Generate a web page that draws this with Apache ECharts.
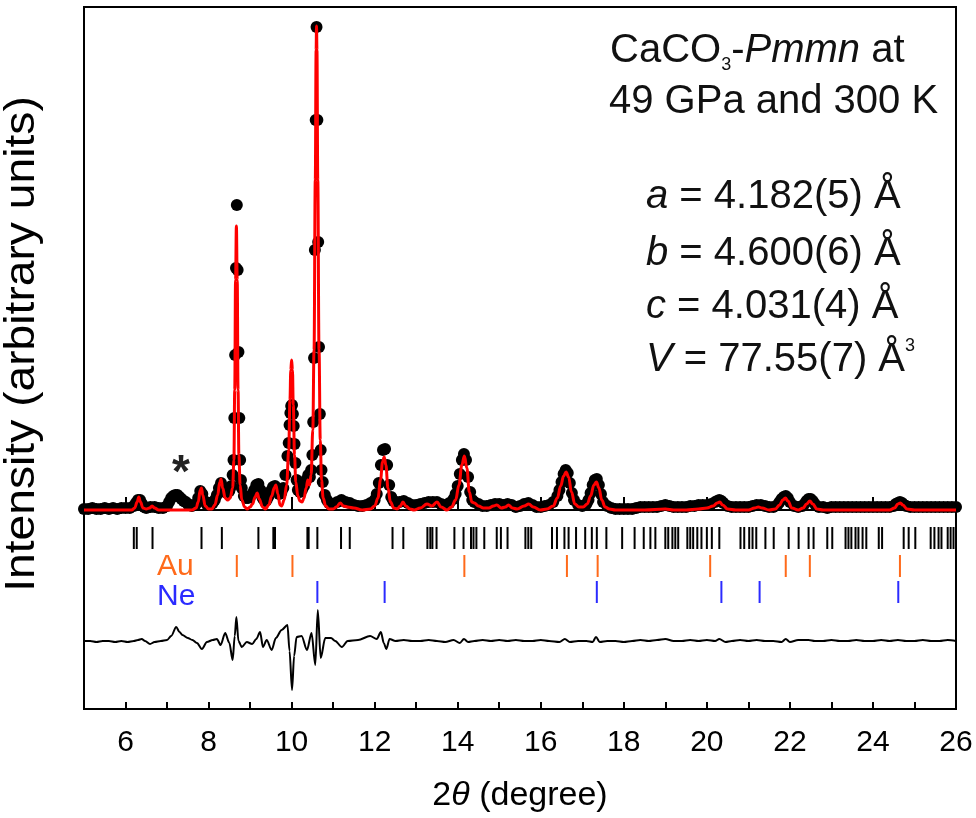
<!DOCTYPE html>
<html>
<head>
<meta charset="utf-8">
<script src="https://cdn.jsdelivr.net/npm/echarts@6/dist/echarts.min.js"></script>
<style>
  html, body { margin: 0; padding: 0; background: #fff; }
  #chart { width: 976px; height: 818px; }
</style>
</head>
<body>
<div id="chart"></div>
<script>
// Observed pattern, [2theta (deg), intensity]
const observed = [
  [5.0,1],[5.1,1],[5.2,2],[5.3,1],[5.4,1],[5.5,2],[5.6,1],[5.7,2],[5.8,1],[5.9,2],[6.0,2],[6.1,2],
  [6.2,4],[6.25,7],[6.3,10],[6.35,10],[6.4,6],[6.45,3],[6.5,2],[6.6,3],[6.7,3],[6.8,2],[6.9,2],
  [7.0,4],[7.05,8],[7.1,12],[7.15,14],[7.2,15],[7.25,15],[7.3,13],[7.35,11],[7.4,9],[7.45,8],[7.5,6],
  [7.55,5],[7.6,4],[7.7,6],[7.75,12],[7.8,19],[7.85,16],[7.9,9],[7.95,6],[8.0,5],[8.05,5],[8.1,7],
  [8.15,10],[8.2,15],[8.25,22],[8.3,27],[8.35,22],[8.4,18],[8.45,17],[8.5,19],[8.55,24],[8.58,35],
  [8.6,50],[8.62,92],[8.64,155],[8.66,242],[8.68,305],[8.7,240],[8.72,158],[8.74,92],[8.76,50],
  [8.78,30],[8.8,22],[8.85,14],[8.9,12],[8.95,12],[9.0,13],[9.05,16],[9.1,20],[9.15,25],[9.2,26],
  [9.25,20],[9.3,12],[9.35,9],[9.4,10],[9.45,14],[9.5,19],[9.55,23],[9.6,24],[9.65,20],[9.7,16],
  [9.75,17],[9.8,22],[9.85,35],[9.9,54],[9.93,67],[9.95,85],[9.97,97],[9.99,104],[10.01,105],
  [10.03,96],[10.05,84],[10.07,66],[10.09,47],[10.12,30],[10.15,20],[10.2,18],[10.25,20],[10.3,24],
  [10.35,30],[10.4,35],[10.44,33],[10.47,40],[10.5,55],[10.52,88],[10.54,152],[10.56,260],[10.58,390],
  [10.6,483],[10.62,390],[10.64,268],[10.66,163],[10.68,96],[10.7,60],[10.72,40],[10.75,28],[10.8,15],
  [10.85,10],[10.9,7],[10.95,6],[11.0,6],[11.1,8],[11.2,10],[11.3,8],[11.4,7],[11.5,5],[11.6,4],
  [11.7,4],[11.8,5],[11.9,7],[12.0,10],[12.05,16],[12.1,27],[12.15,45],[12.2,60],[12.25,61],[12.3,45],
  [12.35,25],[12.4,13],[12.45,9],[12.5,8],[12.6,8],[12.7,9],[12.8,7],[12.9,5],[13.0,5],[13.1,6],
  [13.2,7],[13.3,8],[13.4,8],[13.5,8],[13.6,6],[13.7,5],[13.8,7],[13.9,11],[13.95,16],[14.0,24],
  [14.05,36],[14.1,50],[14.15,56],[14.2,50],[14.25,33],[14.3,18],[14.35,10],[14.4,8],[14.5,6],
  [14.6,4],[14.7,4],[14.8,5],[14.9,6],[15.0,6],[15.1,5],[15.2,6],[15.3,5],[15.4,3],[15.5,4],[15.6,6],
  [15.7,7],[15.8,5],[15.9,3],[16.0,3],[16.1,4],[16.2,5],[16.3,8],[16.4,14],[16.45,20],[16.5,28],
  [16.55,36],[16.6,40],[16.65,37],[16.7,27],[16.75,17],[16.8,10],[16.9,5],[17.0,4],[17.1,6],[17.15,10],
  [17.2,17],[17.25,25],[17.3,30],[17.35,31],[17.4,25],[17.45,16],[17.5,8],[17.6,4],[17.7,2],[17.8,1],
  [17.9,1],[18.0,1],[18.1,1],[18.2,1],[18.3,2],[18.4,3],[18.5,3],[18.6,3],[18.7,3],[18.8,3],[18.9,4],
  [19.0,5],[19.1,4],[19.2,3],[19.3,3],[19.4,3],[19.5,3],[19.6,4],[19.7,4],[19.8,5],[19.9,5],[20.0,5],
  [20.1,6],[20.2,8],[20.25,9],[20.3,10],[20.35,9],[20.4,7],[20.5,4],[20.6,3],[20.7,3],[20.8,3],
  [20.9,3],[21.0,3],[21.1,4],[21.2,5],[21.3,5],[21.4,4],[21.5,3],[21.6,3],[21.7,5],[21.75,8],[21.8,11],
  [21.85,13],[21.9,14],[21.95,12],[22.0,8],[22.1,4],[22.2,3],[22.3,4],[22.35,6],[22.4,9],[22.45,11],
  [22.5,11],[22.55,9],[22.6,6],[22.7,3],[22.8,3],[22.9,2],[23.0,3],[23.1,3],[23.2,3],[23.3,3],[23.4,3],
  [23.5,3],[23.6,3],[23.7,3],[23.8,3],[23.9,3],[24.0,3],[24.1,3],[24.2,3],[24.3,3],[24.4,3],[24.5,4],
  [24.55,6],[24.6,7],[24.65,8],[24.7,7],[24.75,5],[24.8,4],[24.9,3],[25.0,3],[25.1,3],[25.2,3],[25.3,3],
  [25.4,3],[25.5,3],[25.6,3],[25.7,3],[25.8,3],[25.9,3],[26.0,3]
];

// Calculated (refined) profile, [2theta, intensity]
const calculated = [
  [5.0,0],[5.5,0],[6.0,0],[6.15,0],[6.22,2],[6.28,8],[6.32,13],[6.36,8],[6.42,2],[6.5,1],[6.58,2],
  [6.64,4],[6.7,2],[6.8,0],[7.0,0],[7.2,0],[7.4,0],[7.6,0],[7.7,2],[7.75,8],[7.8,20],[7.83,22],
  [7.86,15],[7.92,4],[8.0,1],[8.08,1],[8.15,5],[8.22,15],[8.27,28],[8.3,31],[8.34,22],[8.4,12],
  [8.46,10],[8.52,12],[8.58,22],[8.61,50],[8.63,120],[8.65,230],[8.67,284],[8.69,230],[8.71,120],
  [8.73,55],[8.76,25],[8.8,10],[8.87,3],[8.93,1],[9.0,3],[9.06,6],[9.12,13],[9.17,17],[9.22,11],
  [9.3,3],[9.37,1],[9.45,5],[9.52,14],[9.58,22],[9.62,25],[9.67,16],[9.72,5],[9.76,4],[9.82,10],
  [9.88,25],[9.93,60],[9.96,110],[9.98,140],[10.0,150],[10.02,140],[10.04,105],[10.07,55],[10.1,28],
  [10.15,14],[10.2,9],[10.25,8],[10.3,12],[10.35,22],[10.39,30],[10.43,25],[10.47,35],[10.51,80],
  [10.54,160],[10.57,330],[10.59,460],[10.6,484],[10.61,460],[10.63,330],[10.66,160],[10.69,70],
  [10.72,30],[10.76,12],[10.82,4],[10.9,1],[11.0,1],[11.08,3],[11.17,7],[11.25,4],[11.35,3],[11.5,2],
  [11.7,0],[11.9,1],[12.0,4],[12.08,12],[12.14,30],[12.19,48],[12.23,53],[12.27,45],[12.32,22],
  [12.38,8],[12.46,2],[12.54,1],[12.62,4],[12.68,8],[12.75,4],[12.85,1],[12.95,0],[13.1,2],[13.26,6],
  [13.38,4],[13.5,8],[13.6,3],[13.74,0],[13.85,3],[13.95,10],[14.03,25],[14.1,45],[14.16,54],
  [14.22,42],[14.28,18],[14.34,8],[14.4,7],[14.5,4],[14.62,2],[14.75,2],[14.86,4],[14.94,5],[15.05,2],
  [15.15,3],[15.22,5],[15.32,2],[15.43,1],[15.6,4],[15.71,6],[15.82,3],[15.99,0],[16.15,1],[16.3,4],
  [16.4,12],[16.48,24],[16.55,34],[16.61,38],[16.67,33],[16.74,18],[16.82,6],[16.92,3],[17.02,3],
  [17.12,6],[17.2,14],[17.28,25],[17.34,28],[17.4,22],[17.47,10],[17.55,3],[17.65,1],[17.8,0],
  [18.0,0],[18.5,0],[19.0,1],[19.2,0],[19.5,0],[19.8,1],[20.0,2],[20.15,4],[20.25,7],[20.31,8],
  [20.38,5],[20.5,1],[20.7,0],[21.0,0],[21.15,2],[21.24,3],[21.33,2],[21.5,0],[21.65,1],[21.75,5],
  [21.83,10],[21.89,12],[21.95,9],[22.05,2],[22.2,0],[22.32,2],[22.4,6],[22.48,9],[22.55,6],
  [22.65,1],[22.8,0],[23.5,0],[24.0,0],[24.4,0],[24.52,2],[24.6,6],[24.66,7],[24.72,5],[24.82,1],
  [25.0,0],[26.0,0]
];

// Difference (observed - calculated), [2theta, intensity]
const difference = [
  [5.0,0],[5.15,0],[5.3,-1],[5.45,0],[5.6,0],[5.75,-1],[5.9,0],[6.05,-1],[6.2,0],[6.3,1],[6.39,2],
  [6.47,0],[6.59,-3],[6.7,-1],[6.85,0],[7.0,1],[7.1,5],[7.22,14],[7.3,9],[7.37,6],[7.5,3],[7.61,1],
  [7.72,-2],[7.84,-8],[7.96,-1],[8.1,1],[8.2,2],[8.29,-4],[8.4,8],[8.5,-2],[8.58,-19],[8.63,5],
  [8.67,24],[8.72,0],[8.8,-6],[8.92,-1],[9.05,-3],[9.15,2],[9.24,9],[9.31,-6],[9.4,1],[9.52,-9],
  [9.62,3],[9.76,11],[9.9,16],[9.95,-10],[10.01,-49],[10.06,-15],[10.12,4],[10.24,5],[10.37,-9],
  [10.48,8],[10.57,-24],[10.63,31],[10.7,-17],[10.81,3],[10.95,3],[11.05,0],[11.21,-6],[11.35,0],
  [11.6,1],[11.89,5],[12.05,2],[12.15,9],[12.22,-2],[12.28,-8],[12.36,2],[12.5,0],[12.7,1],[12.9,0],
  [13.1,0],[13.3,1],[13.5,0],[13.7,-1],[13.9,1],[14.05,-2],[14.15,2],[14.25,-1],[14.4,0],[14.6,1],
  [14.8,0],[15.0,1],[15.2,0],[15.4,1],[15.6,0],[15.8,0],[16.0,1],[16.2,0],[16.45,-1],[16.58,2],
  [16.7,-1],[16.9,0],[17.1,0],[17.25,-1],[17.33,4],[17.42,-1],[17.6,0],[17.8,0],[18.0,-1],[18.2,0],
  [18.4,1],[18.6,0],[18.8,1],[19.0,2],[19.2,0],[19.4,0],[19.6,1],[19.8,0],[20.0,1],[20.2,0],[20.3,2],
  [20.45,-1],[20.6,0],[20.8,1],[21.0,0],[21.2,1],[21.4,0],[21.6,0],[21.8,-1],[21.9,2],[22.0,-1],
  [22.2,1],[22.45,1],[22.6,0],[22.8,0],[23.0,1],[23.2,0],[23.4,0],[23.6,1],[23.8,0],[24.0,0],[24.2,1],
  [24.4,0],[24.6,1],[24.8,0],[25.0,0],[25.2,1],[25.4,0],[25.6,0],[25.8,1],[26.0,0]
];

// Bragg reflection positions (2theta, deg)
const caco3Reflections = [
  6.20,6.27,6.65,7.83,8.32,9.20,9.56,9.60,10.38,10.41,10.62,11.19,11.40,12.43,12.69,13.27,13.34,
  13.39,13.49,13.92,14.14,14.32,14.38,14.45,14.64,14.94,15.04,15.20,15.63,15.70,15.77,16.27,16.39,
  16.57,16.67,16.85,17.07,17.23,17.35,17.58,17.96,18.26,18.48,18.64,18.76,19.00,19.07,19.17,19.24,
  19.31,19.53,19.60,19.67,19.77,19.87,20.00,20.12,20.30,20.81,20.90,21.02,21.10,21.19,21.41,21.61,
  21.97,22.21,22.45,22.57,22.90,23.02,23.34,23.41,23.48,23.58,23.65,23.75,23.84,24.14,24.22,24.74,
  24.86,25.02,25.39,25.48,25.58,25.65,25.80,25.87,25.94
];
const auReflections = [8.68,10.02,14.16,16.63,17.37,20.08,21.90,22.48,24.65];
const neReflections = [10.62,12.24,17.35,20.35,21.27,24.61];

// Vertical placement (in intensity units) of the auxiliary rows
const DIFF_BASE = -131;
const ROW_CACO3 = [-17, -39];
const ROW_AU = [-45, -67];
const ROW_NE = [-71, -93];

const FONT = '"Liberation Sans", Arial, sans-serif';
const INK = '#111';
const ORANGE = '#ff6a1a';
const BLUE = '#2b2bff';
const BIG = 40;

function reflectionSeries(list, row, color) {
  return {
    type: 'custom',
    silent: true,
    z: 3,
    data: list.map(t => [t, row[0], row[1]]),
    encode: { x: 0, y: [1, 2] },
    renderItem(params, api) {
      const a = api.coord([api.value(0), api.value(1)]);
      const b = api.coord([api.value(0), api.value(2)]);
      return {
        type: 'line',
        shape: { x1: a[0], y1: a[1], x2: b[0], y2: b[1] },
        style: { stroke: color, lineWidth: 2 }
      };
    }
  };
}

function cellLine(letter, rest, y) {
  return {
    type: 'text', x: 646, y: y,
    style: {
      text: '{i|' + letter + '}{n| = ' + rest + '}', verticalAlign: 'middle',
      rich: {
        n: { fontSize: BIG, fontFamily: FONT, fill: INK, lineHeight: 46 },
        i: { fontSize: BIG, fontFamily: FONT, fontStyle: 'italic', fill: INK, lineHeight: 46 },
        p: { fontSize: 18, fontFamily: FONT, fill: INK, lineHeight: 20, verticalAlign: 'top' }
      }
    }
  };
}

const chart = echarts.init(document.getElementById('chart'), null, { renderer: 'canvas' });

chart.setOption({
  animation: false,
  backgroundColor: '#fff',
  grid: {
    left: 84, right: 20, top: 7, bottom: 109,
    outerBoundsMode: 'none', containLabel: false,
    show: true, borderColor: '#000', borderWidth: 2, backgroundColor: 'transparent'
  },
  xAxis: [
    {
      type: 'value', min: 5, max: 26, splitNumber: 10, position: 'bottom',
      axisLine: { lineStyle: { color: '#000', width: 2 } },
      axisTick: { inside: true, length: 13, lineStyle: { color: '#000', width: 2 } },
      axisLabel: { showMinLabel: false, fontSize: 30, color: '#000', margin: 19, fontFamily: FONT },
      splitLine: { show: false },
      name: '2{i|θ} (degree)',
      nameLocation: 'middle',
      nameGap: 70,
      nameTextStyle: {
        fontSize: 34, color: '#000', fontFamily: FONT,
        rich: { i: { fontSize: 34, fontStyle: 'italic', color: '#000', fontFamily: FONT } }
      }
    },
    {
      type: 'value', min: 5, max: 26, interval: 1, position: 'bottom',
      axisLine: { show: false },
      axisTick: { inside: true, length: 7, lineStyle: { color: '#000', width: 2 } },
      axisLabel: { show: false },
      splitLine: { show: false }
    }
  ],
  yAxis: {
    type: 'value', min: -199, max: 503,
    axisLine: { show: true, lineStyle: { color: '#000', width: 2 } },
    axisTick: { show: false },
    axisLabel: { show: false },
    splitLine: { show: false }
  },
  series: [
    {
      name: 'observed', type: 'scatter', data: observed,
      symbol: 'circle', symbolSize: 12,
      itemStyle: { color: '#000', opacity: 1 }, z: 2, silent: true
    },
    {
      name: 'calculated', type: 'line', data: calculated,
      showSymbol: false, smooth: 0.4, smoothMonotone: 'x',
      lineStyle: { color: '#ff0000', width: 3 }, z: 4, silent: true
    },
    {
      name: 'difference', type: 'line',
      data: difference.map(d => [d[0], d[1] + DIFF_BASE]),
      showSymbol: false, smooth: 0.3, smoothMonotone: 'x',
      lineStyle: { color: '#000', width: 2 }, z: 3, silent: true
    },
    reflectionSeries(caco3Reflections, ROW_CACO3, '#000'),
    reflectionSeries(auReflections, ROW_AU, ORANGE),
    reflectionSeries(neReflections, ROW_NE, BLUE)
  ],
  graphic: [
    {
      type: 'text', x: 22, y: 344, rotation: Math.PI / 2, scaleX: 1.1,
      style: {
        text: 'Intensity (arbitrary units)', fontSize: 42, fontFamily: FONT, fill: '#000',
        align: 'center', verticalAlign: 'middle'
      }
    },
    {
      type: 'text', x: 610, y: 51,
      style: {
        text: '{n|CaCO}{s|3}{n|-}{i|Pmmn}{n| at}',
        verticalAlign: 'middle',
        rich: {
          n: { fontSize: BIG, fontFamily: FONT, fill: INK, lineHeight: 46 },
          i: { fontSize: BIG, fontFamily: FONT, fontStyle: 'italic', fill: INK, lineHeight: 46 },
          s: { fontSize: 18, fontFamily: FONT, fill: INK, lineHeight: 20, verticalAlign: 'bottom' }
        }
      }
    },
    {
      type: 'text', x: 609, y: 102,
      style: { text: '49 GPa and 300 K', fontSize: BIG, fontFamily: FONT, fill: INK, verticalAlign: 'middle' }
    },
    cellLine('a', '4.182(5) Å', 197),
    cellLine('b', '4.600(6) Å', 254),
    cellLine('c', '4.031(4) Å', 307),
    (function () {
      const el = cellLine('V', '77.55(7) Å', 360);
      el.style.text += '{p|3}';
      return el;
    })(),
    {
      type: 'text', x: 181, y: 474,
      style: { text: '*', fontSize: 46, fontFamily: FONT, fontWeight: 'bold', fill: '#222', align: 'center', verticalAlign: 'middle' }
    },
    {
      type: 'text', x: 157, y: 567,
      style: { text: 'Au', fontSize: 30, fontFamily: FONT, fill: ORANGE, verticalAlign: 'middle' }
    },
    {
      type: 'text', x: 157, y: 597,
      style: { text: 'Ne', fontSize: 30, fontFamily: FONT, fill: BLUE, verticalAlign: 'middle' }
    }
  ]
});
</script>
</body>
</html>
